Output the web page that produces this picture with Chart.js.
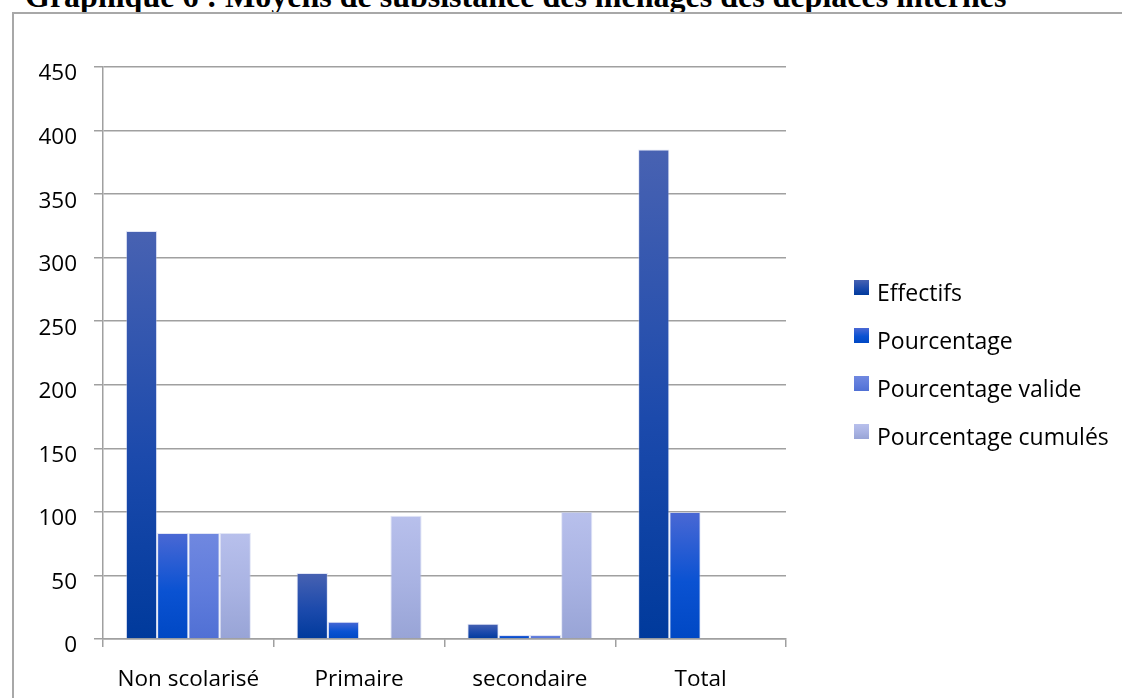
<!DOCTYPE html>
<html lang="fr">
<head>
<meta charset="utf-8">
<title>Graphique 6</title>
<script src="https://cdn.jsdelivr.net/npm/chart.js@4.4.1/dist/chart.umd.min.js"></script>
<style>
  html, body { margin: 0; padding: 0; background: #fff; overflow: hidden; }
  body { width: 1122px; height: 698px; position: relative; }
  #title {
    position: absolute; left: 25px; top: -20px; white-space: nowrap;
    font: bold 32px/32px "Liberation Serif", "Times New Roman", serif; color: #000;
  }
  #frame {
    position: absolute; left: 12px; top: 12px; width: 1200px; height: 800px;
    border-top: 2px solid #a8a8a8; border-left: 2px solid #a8a8a8;
  }
  #chart { position: absolute; left: 0; top: 0; }
  #legend { position: absolute; left: 854px; top: 280px; font: 23px/22px "Open Sans", sans-serif; color: #000; }
  #legend .item { position: absolute; left: 0; white-space: nowrap; }
  #legend .swatch { position: absolute; left: 0; top: 0; width: 15px; height: 15px; }
  #legend .label { position: absolute; left: 23px; top: 1px; }
</style>
</head>
<body>
<div id="title">Graphique 6 : Moyens de subsistance des ménages des déplacés internes</div>
<div id="frame"></div>
<canvas id="chart" width="1122" height="698"></canvas>
<div id="legend"></div>
<script>
const categories = ['Non scolarisé', 'Primaire', 'secondaire', 'Total'];

const effectifs = [321, 52, 12, 385];
const pourcentage = [83.4, 13.5, 3.1, 100];
const pourcentageValide = [83.4, null, 3.1, null];
const pourcentageCumules = [83.4, 96.9, 100, null];

const yTicks = { min: 0, max: 450, step: 50 };

// top -> bottom colour stops of each series' bar gradient
const SERIES = [
  { label: 'Effectifs', data: effectifs, stops: ['#4862b2', '#1c4aac', '#003a9c'] },
  { label: 'Pourcentage', data: pourcentage, stops: ['#4a68d4', '#0a52d2', '#0048c4'] },
  { label: 'Pourcentage valide', data: pourcentageValide, stops: ['#7088e0', '#5f7cdc', '#5070d4'] },
  { label: 'Pourcentage cumulés', data: pourcentageCumules, stops: ['#b8c0ec', '#a8b2e2', '#98a4d6'] },
];

const FONT = 'Open Sans';
const GRID = '#a0a0a0';

// vertical gradient spanning each bar from its top to the zero line
function barFill(stops) {
  return (ctx) => {
    const { chart, raw } = ctx;
    const y = chart.scales.y;
    if (!y || raw == null) return stops[1];
    const top = y.getPixelForValue(raw);
    const base = y.getPixelForValue(0);
    if (!isFinite(top) || top === base) return stops[1];
    const g = chart.ctx.createLinearGradient(0, top, 0, base);
    g.addColorStop(0, stops[0]);
    g.addColorStop(0.55, stops[1]);
    g.addColorStop(1, stops[2]);
    return g;
  };
}

new Chart(document.getElementById('chart'), {
  type: 'bar',
  data: {
    labels: categories,
    datasets: SERIES.map(s => ({
      label: s.label,
      data: s.data,
      backgroundColor: barFill(s.stops),
      borderColor: 'rgba(190, 200, 235, 0.45)',
      borderWidth: 1,
      categoryPercentage: 0.732,
      barPercentage: 1,
    })),
  },
  options: {
    responsive: false,
    animation: false,
    layout: { padding: { top: 67, left: 0, right: 336, bottom: 0 } },
    plugins: {
      legend: { display: false },
      tooltip: { enabled: false },
    },
    scales: {
      x: {
        afterFit: (s) => { s.height = 59; },
        grid: { offset: true, drawOnChartArea: false, drawTicks: true, tickLength: 8, color: GRID, lineWidth: 1.5 },
        border: { color: GRID, width: 1.5 },
        ticks: { color: '#000', font: { family: FONT, size: 22.5 }, padding: 19, maxRotation: 0, autoSkip: false },
      },
      y: {
        min: yTicks.min,
        max: yTicks.max,
        afterFit: (s) => { s.width = 103; },
        grid: { color: GRID, lineWidth: 1.5, tickLength: 9 },
        border: { color: GRID, width: 1.5 },
        ticks: { stepSize: yTicks.step, color: '#000', font: { family: FONT, size: 22.5 }, padding: 17, labelOffset: 7 },
      },
    },
  },
});

// legend built from the same series list
const legendEl = document.getElementById('legend');
SERIES.forEach((s, i) => {
  const item = document.createElement('div');
  item.className = 'item';
  item.style.top = (i * 48) + 'px';
  const sw = document.createElement('span');
  sw.className = 'swatch';
  sw.style.background = `linear-gradient(${s.stops[0]}, ${s.stops[1]} 55%, ${s.stops[2]})`;
  const txt = document.createElement('span');
  txt.className = 'label';
  txt.textContent = s.label;
  item.appendChild(sw);
  item.appendChild(txt);
  legendEl.appendChild(item);
});
</script>
</body>
</html>
